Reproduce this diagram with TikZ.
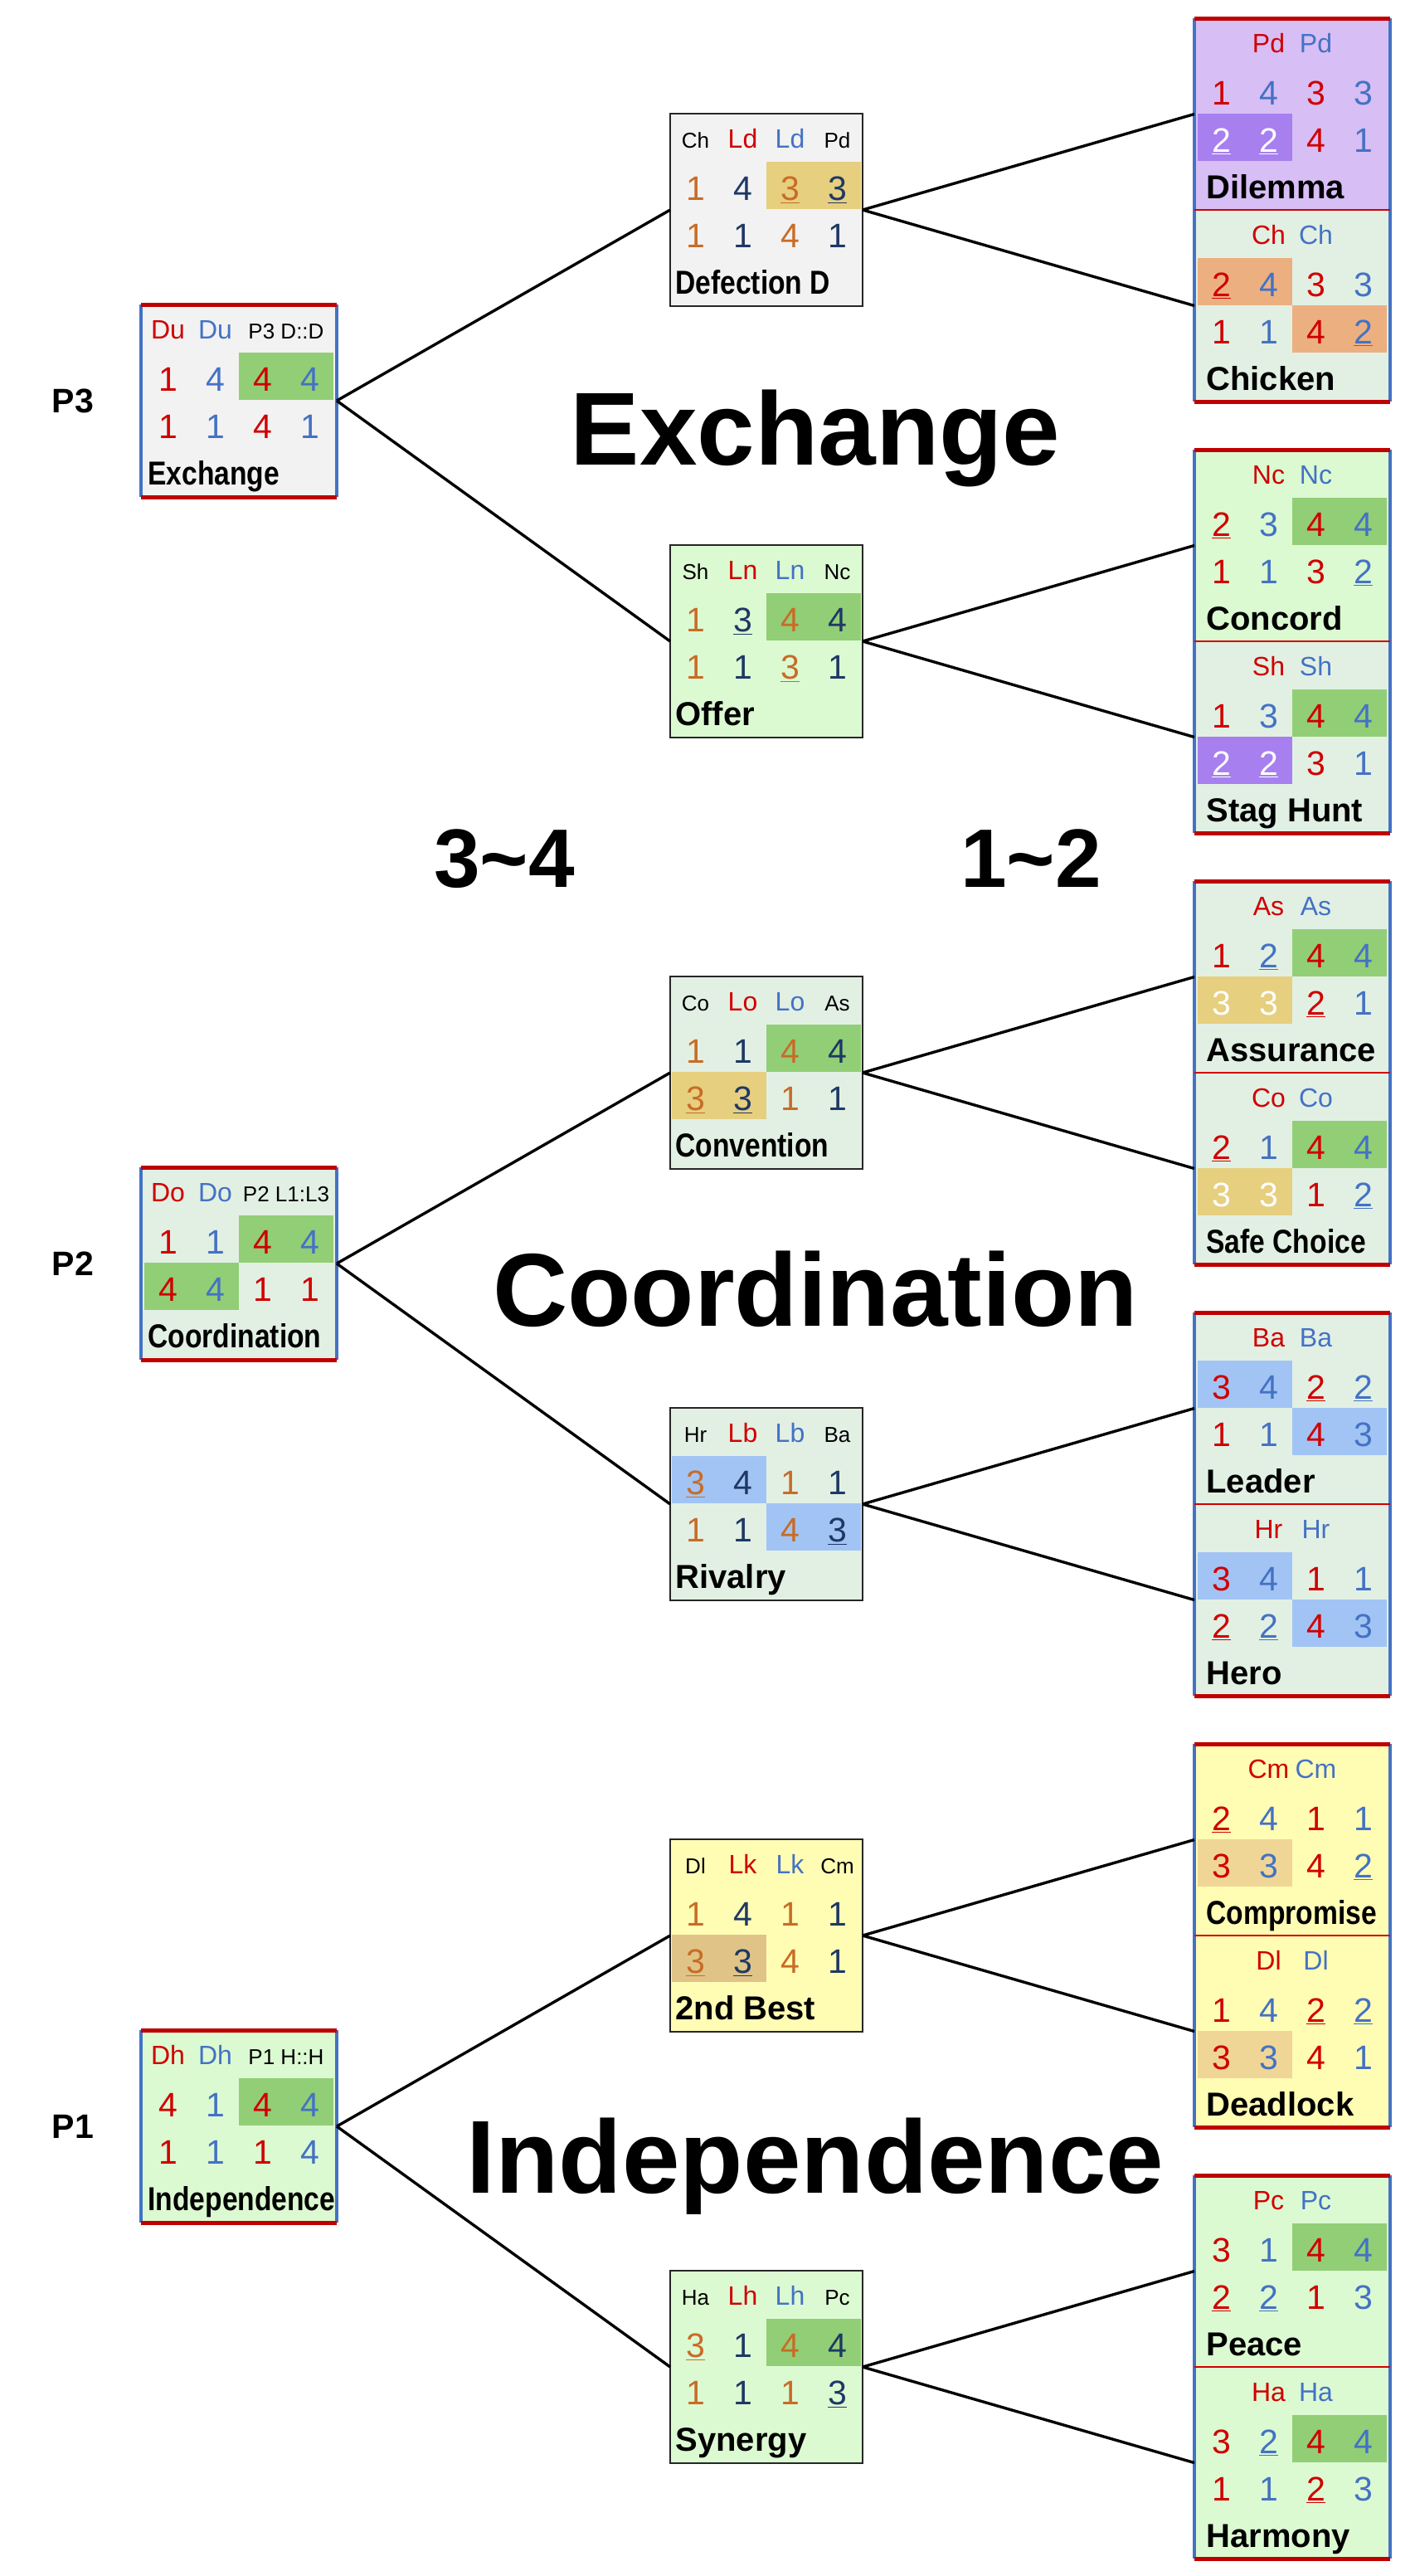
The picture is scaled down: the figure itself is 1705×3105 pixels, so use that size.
\documentclass[tikz,border=0pt]{standalone}
\usepackage{fontspec}
\setmainfont{Liberation Sans}
\usepackage{graphicx}
\usepackage{tikz}

\definecolor{pr}{RGB}{208,0,0}
\definecolor{pb}{RGB}{68,114,196}
\definecolor{po}{RGB}{200,108,38}
\definecolor{pn}{RGB}{31,56,100}
\definecolor{bggray}{RGB}{242,242,242}
\definecolor{bgmint}{RGB}{226,240,228}
\definecolor{bggreen}{RGB}{220,250,210}
\definecolor{bgyellow}{RGB}{255,252,180}
\definecolor{bglav}{RGB}{215,190,245}
\definecolor{hlgreen}{RGB}{146,206,118}
\definecolor{hlkhaki}{RGB}{230,207,127}
\definecolor{hltan}{RGB}{224,196,135}
\definecolor{hltanlight}{RGB}{240,214,150}
\definecolor{hlpurple}{RGB}{167,127,239}
\definecolor{hlorange}{RGB}{236,176,128}
\definecolor{hlblue}{RGB}{162,196,245}

\newcommand{\un}[1]{\underline{#1}}
\newcommand{\wh}[1]{\textcolor{white}{#1}}
\newcommand{\wun}[1]{\textcolor{white}{\underline{#1}}}
\newcommand{\narrowtext}[1]{\scalebox{0.84}[1]{#1}}

% #1 name, #2 centre/top, #3 options, #4 shaded cells, #5 header, #6 row 1, #7 row 2, #8 label
\newcommand{\game}[8]{%
	\begin{scope}[shift={(#2)}, #3]
		\node[gbox] (#1) at (0,0) {};
		\foreach \col/\row/\hl in {#4}
			\fill[\hl] (57*\col-171,1+57*\row) rectangle (57*\col-57,58+57*\row);
		\foreach \pos/\st/\txt [count=\k] in {#5}
			\node[\st] (#1h\k) at (57*\pos-142.5,41) {\txt};
		\foreach \val [count=\i] in {#6} {
			\ifodd\i \def\numst{oddnum}\else\def\numst{evennum}\fi
			\node[num,\numst] (#1a\i) at (57*\i-142.5,104) {\val};
		}
		\foreach \val [count=\i] in {#7} {
			\ifodd\i \def\numst{oddnum}\else\def\numst{evennum}\fi
			\node[num,\numst] (#1b\i) at (57*\i-142.5,161) {\val};
		}
		\node[lbl] (#1l) at (-110,217) {#8};
	\end{scope}}

\begin{document}
\begin{tikzpicture}
		[
			x=0.5pt, y=-0.5pt,
			num/.style = {anchor=base, inner sep=0pt, font=\fontsize{20.5}{21}\selectfont},
			hdr/.style = {anchor=base, inner sep=0pt, text=pr, font=\fontsize{16}{17}\selectfont},
			hdb/.style = {hdr, text=pb},
			hds/.style = {anchor=base, inner sep=0pt, font=\fontsize{13}{14}\selectfont},
			lbl/.style = {anchor=base west, inner sep=0pt, font=\bfseries\fontsize{20}{22}\selectfont},
			title/.style = {anchor=base, inner sep=0pt, font=\bfseries\fontsize{62.5}{70}\selectfont},
			rangetxt/.style = {anchor=base, inner sep=0pt, font=\bfseries\fontsize{50}{56}\selectfont},
			plabel/.style = {inner sep=0pt, font=\bfseries\fontsize{20.5}{22}\selectfont},
			redblue/.style = {oddnum/.style={text=pr}, evennum/.style={text=pb}},
			orangenavy/.style = {oddnum/.style={text=po}, evennum/.style={text=pn}},
			gframe/.style = {anchor=north, inner sep=0pt, outer sep=0pt},
			leftgame/.style = {redblue, gbox/.style={gframe, minimum width=118pt, minimum height=116pt}},
			midgame/.style = {orangenavy, gbox/.style={gframe, draw=black!85, line width=1pt, minimum width=116pt, minimum height=116pt}},
			rightgame/.style = {redblue, gbox/.style={gframe, minimum width=118pt, minimum height=115.5pt}, lbl/.append style={xshift=3pt}},
			boxfill/.style = {gbox/.append style={fill=#1}},
			redrule/.style = {draw=pr!92!black, line width=2.5pt},
			bluerule/.style = {draw=pb, line width=2pt},
			divider/.style = {draw=pr, line width=1pt},
			link/.style = {draw=black, line width=1.7pt},
		]

		\useasboundingbox (0,0) rectangle (1705,3105);

		% level labels and titles
		\node[plabel] (lp3) at (88,483) {P3};
		\node[plabel] (lp2) at (88,1523) {P2};
		\node[plabel] (lp1) at (88,2563) {P1};
		\node[title] (texch) at (983,560) {Exchange};
		\node[title] (tcoor) at (983,1598) {Coordination};
		\node[title] (tindep) at (983,2643) {Independence};
		\node[rangetxt] (r34) at (608,1069) {3\textasciitilde4};
		\node[rangetxt] (r12) at (1243,1069) {1\textasciitilde2};

		% left column
		\game{p3}{288,367}{leftgame, boxfill=bggray}{3/1/hlgreen}{1/hdr/Du, 2/hdb/Du, 3.5/hds/P3 D::D}{1,4,4,4}{1,1,4,1}{\narrowtext{Exchange}}
		\game{p2}{288,1407}{leftgame, boxfill=bgmint}{3/1/hlgreen, 1/2/hlgreen}{1/hdr/Do, 2/hdb/Do, 3.5/hds/P2 L1:L3}{1,1,4,4}{4,4,1,{\color{pr}1}}{\narrowtext{Coordination}}
		\game{p1}{288,2447}{leftgame, boxfill=bggreen}{3/1/hlgreen}{1/hdr/Dh, 2/hdb/Dh, 3.5/hds/P1 H::H}{4,1,4,4}{1,1,1,4}{\narrowtext{Independence}}

		% middle column
		\game{dd}{924,137}{midgame, boxfill=bggray}{3/1/hlkhaki}{1/hds/Ch, 2/hdr/Ld, 3/hdb/Ld, 4/hds/Pd}{1,4,\un{3},\un{3}}{1,1,4,1}{\narrowtext{Defection D}}
		\game{off}{924,657}{midgame, boxfill=bggreen}{3/1/hlgreen}{1/hds/Sh, 2/hdr/Ln, 3/hdb/Ln, 4/hds/Nc}{1,\un{3},4,4}{1,1,\un{3},1}{Offer}
		\game{conv}{924,1177}{midgame, boxfill=bgmint}{3/1/hlgreen, 1/2/hlkhaki}{1/hds/Co, 2/hdr/Lo, 3/hdb/Lo, 4/hds/As}{1,1,4,4}{\un{3},\un{3},1,1}{\narrowtext{Convention}}
		\game{riv}{924,1697}{midgame, boxfill=bgmint}{1/1/hlblue, 3/2/hlblue}{1/hds/Hr, 2/hdr/Lb, 3/hdb/Lb, 4/hds/Ba}{\un{3},4,1,1}{1,1,4,\un{3}}{Rivalry}
		\game{sec}{924,2217}{midgame, boxfill=bgyellow}{1/2/hltan}{1/hds/Dl, 2/hdr/Lk, 3/hdb/Lk, 4/hds/Cm}{1,4,1,1}{\un{3},\un{3},4,1}{2nd Best}
		\game{syn}{924,2737}{midgame, boxfill=bggreen}{3/1/hlgreen}{1/hds/Ha, 2/hdr/Lh, 3/hdb/Lh, 4/hds/Pc}{\un{3},1,4,4}{1,1,1,\un{3}}{Synergy}

		% right column
		\game{dil}{1558,22}{rightgame, boxfill=bglav}{1/2/hlpurple}{2/hdr/Pd, 3/hdb/Pd}{1,4,3,3}{\wun{2},\wun{2},4,1}{Dilemma}
		\game{chi}{1558,253}{rightgame, boxfill=bgmint}{1/1/hlorange, 3/2/hlorange}{2/hdr/Ch, 3/hdb/Ch}{\un{2},4,3,3}{1,1,4,\un{2}}{Chicken}
		\game{con}{1558,542}{rightgame, boxfill=bggreen}{3/1/hlgreen}{2/hdr/Nc, 3/hdb/Nc}{\un{2},3,4,4}{1,1,3,\un{2}}{Concord}
		\game{stag}{1558,773}{rightgame, boxfill=bgmint}{3/1/hlgreen, 1/2/hlpurple}{2/hdr/Sh, 3/hdb/Sh}{1,3,4,4}{\wun{2},\wun{2},3,1}{Stag Hunt}
		\game{ass}{1558,1062}{rightgame, boxfill=bgmint}{3/1/hlgreen, 1/2/hlkhaki}{2/hdr/As, 3/hdb/As}{1,\un{2},4,4}{\wh{3},\wh{3},\un{2},1}{Assurance}
		\game{safe}{1558,1293}{rightgame, boxfill=bgmint}{3/1/hlgreen, 1/2/hlkhaki}{2/hdr/Co, 3/hdb/Co}{\un{2},1,4,4}{\wh{3},\wh{3},1,\un{2}}{\narrowtext{Safe Choice}}
		\game{lead}{1558,1582}{rightgame, boxfill=bgmint}{1/1/hlblue, 3/2/hlblue}{2/hdr/Ba, 3/hdb/Ba}{3,4,\un{2},\un{2}}{1,1,4,3}{Leader}
		\game{hero}{1558,1813}{rightgame, boxfill=bgmint}{1/1/hlblue, 3/2/hlblue}{2/hdr/Hr, 3/hdb/Hr}{3,4,1,1}{\un{2},\un{2},4,3}{Hero}
		\game{comp}{1558,2102}{rightgame, boxfill=bgyellow}{1/2/hltanlight}{2/hdr/Cm, 3/hdb/Cm}{\un{2},4,1,1}{3,3,4,\un{2}}{\narrowtext{Compromise}}
		\game{dead}{1558,2333}{rightgame, boxfill=bgyellow}{1/2/hltanlight}{2/hdr/Dl, 3/hdb/Dl}{1,4,\un{2},\un{2}}{3,3,4,1}{Deadlock}
		\game{peace}{1558,2622}{rightgame, boxfill=bggreen}{3/1/hlgreen}{2/hdr/Pc, 3/hdb/Pc}{3,1,4,4}{\un{2},\un{2},1,3}{Peace}
		\game{harm}{1558,2853}{rightgame, boxfill=bggreen}{3/1/hlgreen}{2/hdr/Ha, 3/hdb/Ha}{3,\un{2},4,4}{1,1,\un{2},3}{Harmony}

		% frames
		\foreach \b in {p3,p2,p1} {
			\draw[bluerule] (\b.north west) -- (\b.south west) (\b.north east) -- (\b.south east);
			\draw[redrule] (\b.north west) -- (\b.north east) (\b.south west) -- (\b.south east);
		}
		\foreach \up/\dn in {dil/chi,con/stag,ass/safe,lead/hero,comp/dead,peace/harm} {
			\draw[bluerule] (\up.north west) -- (\dn.south west) (\up.north east) -- (\dn.south east);
			\draw[redrule] (\up.north west) -- (\up.north east) (\dn.south west) -- (\dn.south east);
			\draw[divider] (\up.south west) -- (\up.south east);
		}

		% branches
		\foreach \from/\to in {p3/dd,p3/off,dd/dil,dd/chi,off/con,off/stag,p2/conv,p2/riv,conv/ass,conv/safe,riv/lead,riv/hero,p1/sec,p1/syn,sec/comp,sec/dead,syn/peace,syn/harm}
		\draw[link] (\from.east) -- (\to.west);

		\end{tikzpicture}
\end{document}
